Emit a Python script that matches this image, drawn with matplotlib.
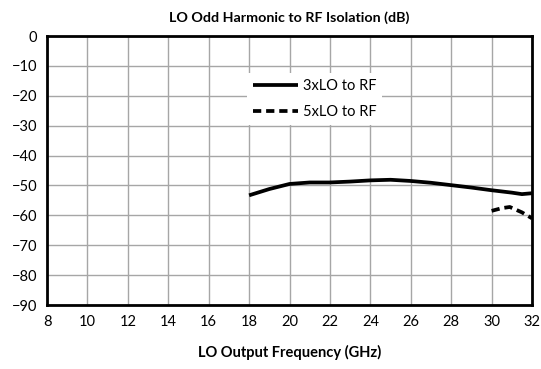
import matplotlib
matplotlib.use("Agg")
import matplotlib.pyplot as plt

# LO odd-harmonic leakage at the RF port versus LO output frequency
freq_3x = [18, 19, 20, 21, 22, 23, 24, 25, 26, 27, 28, 29, 30, 31, 31.5, 32]
iso_3x = [-53.3, -51.2, -49.5, -49.0, -49.0, -48.7, -48.3, -48.1, -48.5, -49.1, -49.9, -50.7, -51.6, -52.4, -52.9, -52.6]

freq_5x = [30, 30.5, 30.9, 31.5, 32]
iso_5x = [-58.5, -57.6, -57.2, -59.0, -61.0]

x_ticks = list(range(8, 33, 2))
y_ticks = list(range(-90, 1, 10))

plt.rcParams["font.family"] = ["Lato", "DejaVu Sans"]

fig = plt.figure(figsize=(5.41, 3.69), dpi=100)
ax = fig.add_axes([0.0869, 0.1734, 0.8965, 0.729])

ax.plot(freq_3x, iso_3x, color="black", lw=2.7, solid_capstyle="butt", label="3xLO to RF")
ax.plot(freq_5x, iso_5x, color="black", lw=2.7, ls=(0, (2.2, 1.3)), label="5xLO to RF")

ax.set_xlim(8, 32)
ax.set_ylim(-90, 0)
ax.set_xticks(x_ticks)
ax.set_yticks(y_ticks)
ax.tick_params(length=0, labelsize=10.5, pad=7)
ax.grid(True, color="#a6a6a6", lw=1)
ax.set_axisbelow(True)
for s in ax.spines.values():
    s.set_linewidth(2)
    s.set_color("black")

ax.set_title("LO Odd Harmonic to RF Isolation (dB)", fontsize=10.3, fontweight="bold", pad=10)
ax.set_xlabel("LO Output Frequency (GHz)", fontsize=10.5, fontweight="bold", labelpad=12)

leg = ax.legend(loc="upper left", bbox_to_anchor=(0.398, 0.89), frameon=True,
                fancybox=False, edgecolor="none", facecolor="white", framealpha=1,
                fontsize=10.5, handlelength=3.1, handletextpad=0.3, labelspacing=0.85,
                borderpad=0.4)

fig.savefig("out.png", dpi=100)
